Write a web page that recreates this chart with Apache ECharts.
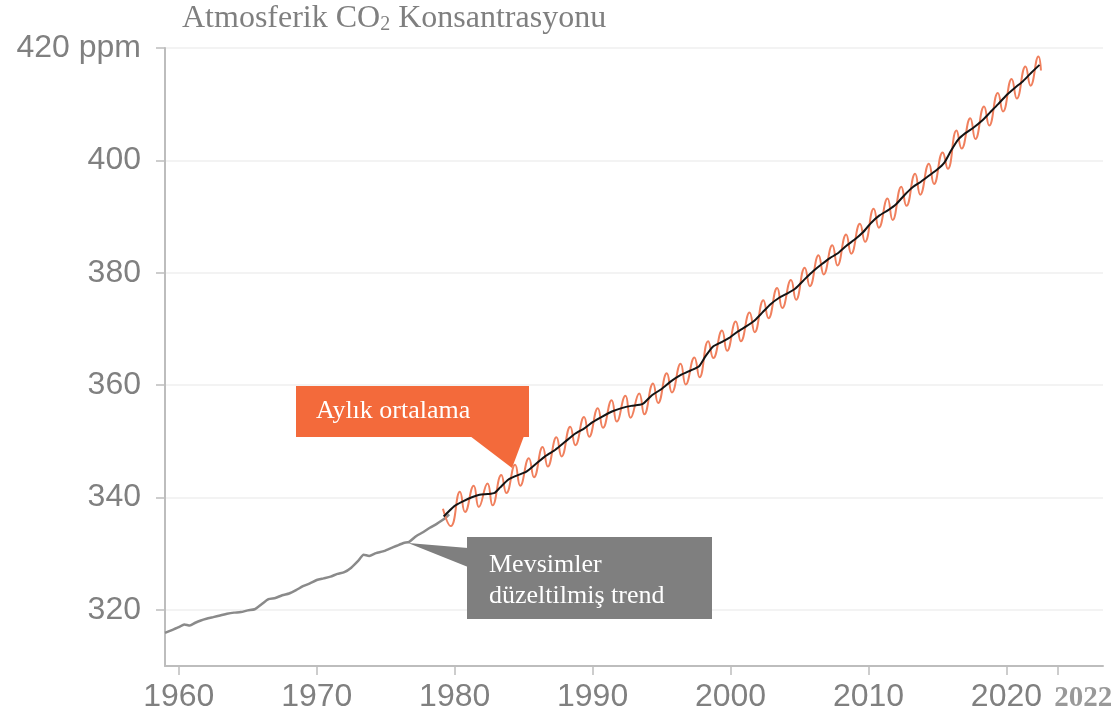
<!DOCTYPE html>
<html>
<head>
<meta charset="utf-8">
<script src="https://cdn.jsdelivr.net/npm/echarts@6/dist/echarts.min.js"></script>
<style>
html,body{margin:0;padding:0;background:#fff;}
#chart{width:1117px;height:719px;}
</style>
</head>
<body>
<div id="chart"></div>
<script>
// Seasonally corrected trend before 1979 (gray)
const grayYears = [1959.0,1959.5,1960.0,1960.4,1960.8,1961.2,1961.6,1962.0,1962.5,1963.0,1963.5,1964.0,1964.5,1965.0,1965.5,1966.0,1966.5,1967.0,1967.5,1968.0,1968.5,1969.0,1969.5,1970.0,1970.5,1971.0,1971.5,1972.0,1972.5,1973.0,1973.4,1973.8,1974.3,1974.8,1975.3,1975.8,1976.3,1976.7,1977.2,1977.7,1978.2,1978.7,1979.2,1979.6];
const grayValues = [315.9,316.4,316.9,317.4,317.2,317.7,318.1,318.4,318.7,319.0,319.3,319.5,319.6,319.9,320.1,321.0,321.9,322.1,322.6,322.9,323.5,324.2,324.7,325.3,325.6,325.9,326.4,326.7,327.5,328.7,329.8,329.6,330.1,330.4,330.9,331.4,331.9,332.1,333.1,333.8,334.6,335.3,336.1,337.0];

// Seasonally corrected trend from 1979 (black)
const trendYears = [1979.2,1980.0,1980.6,1981.2,1981.8,1982.4,1982.9,1983.3,1983.9,1984.5,1985.2,1985.9,1986.6,1987.3,1988.0,1988.7,1989.4,1990.0,1990.7,1991.4,1992.1,1992.8,1993.6,1994.3,1995.0,1995.7,1996.4,1997.1,1997.7,1998.2,1998.7,1999.3,1999.9,2000.5,2001.1,2001.7,2002.3,2002.9,2003.5,2004.1,2004.7,2005.4,2006.0,2006.6,2007.2,2007.8,2008.4,2009.0,2009.6,2010.2,2010.8,2011.4,2012.0,2012.6,2013.2,2013.8,2014.4,2015.0,2015.5,2016.0,2016.5,2017.0,2017.6,2018.2,2018.8,2019.4,2020.0,2020.6,2021.2,2021.8,2022.4];
const trendValues = [336.6,338.5,339.3,340.0,340.5,340.6,340.8,341.8,343.2,343.9,344.6,346.0,347.4,348.5,349.9,351.3,352.3,353.4,354.4,355.3,355.9,356.3,356.6,358.2,359.3,360.7,361.8,362.6,363.3,365.2,366.8,367.6,368.4,369.5,370.4,371.4,372.9,374.4,375.5,376.3,377.2,378.9,380.3,381.5,382.6,383.5,384.8,385.9,387.2,388.9,390.2,391.1,392.2,393.8,395.2,396.2,397.3,398.4,399.6,401.8,403.7,404.8,405.8,407.0,408.5,410.0,411.6,412.9,414.1,415.6,417.0];

// Monthly mean: seasonal highs and lows (orange)
const monthlyYears = [1979.15,1979.72,1980.38,1980.75,1981.38,1981.75,1982.38,1982.75,1983.38,1983.75,1984.38,1984.75,1985.38,1985.75,1986.38,1986.75,1987.38,1987.75,1988.38,1988.75,1989.38,1989.75,1990.38,1990.75,1991.38,1991.75,1992.38,1992.75,1993.38,1993.75,1994.38,1994.75,1995.38,1995.75,1996.38,1996.75,1997.38,1997.75,1998.38,1998.75,1999.38,1999.75,2000.38,2000.75,2001.38,2001.75,2002.38,2002.75,2003.38,2003.75,2004.38,2004.75,2005.38,2005.75,2006.38,2006.75,2007.38,2007.75,2008.38,2008.75,2009.38,2009.75,2010.38,2010.75,2011.38,2011.75,2012.38,2012.75,2013.38,2013.75,2014.38,2014.75,2015.38,2015.75,2016.38,2016.75,2017.38,2017.75,2018.38,2018.75,2019.38,2019.75,2020.38,2020.75,2021.38,2021.75,2022.32,2022.5];
const monthlyValues = [338.0,334.9,341.0,337.4,342.1,338.3,342.5,338.6,344.0,340.8,345.8,342.1,347.0,343.6,349.0,345.5,350.7,347.3,352.6,349.3,354.3,350.8,355.9,352.4,357.3,353.5,358.1,354.2,358.5,354.8,360.3,356.8,362.1,358.7,363.8,360.1,364.9,361.4,367.8,364.8,369.7,366.1,371.3,367.8,372.9,369.4,375.1,371.9,377.3,373.7,378.7,375.2,380.9,377.6,383.1,379.7,384.9,381.3,386.8,383.4,388.7,385.5,391.4,388.0,393.2,389.4,395.3,391.9,397.6,393.9,399.4,395.8,401.4,398.5,405.3,402.1,407.5,403.8,409.6,406.2,412.0,408.7,414.5,411.0,416.7,413.3,418.5,416.0];

// Axis ticks and labels
const xTickValues = [1960,1970,1980,1990,2000,2010,2020,2023.75];
const xTickLabels = ['1960','1970','1980','1990','2000','2010','2020','2022'];
const yTickValues = [320,340,360,380,400,420];
const yTickLabels = ['320','340','360','380','400','420 ppm'];

const titleText = '{a|Atmosferik CO}{s|2}{a| Konsantrasyonu}';
const monthlyLabel = 'Aylık ortalama';
const trendLabelLines = ['Mevsimler', 'düzeltilmiş trend'];

const zip = (xs, ys) => xs.map((x, i) => [x, ys[i]]);

const chart = echarts.init(document.getElementById('chart'), null, {renderer: 'canvas'});

const ORANGE = '#f36a3b';
const GRAYBOX = '#7f7f7f';
const SERIF = '"Liberation Serif", "Times New Roman", serif';
const SANS = '"Liberation Sans", Arial, Helvetica, sans-serif';

const option = {
  animation: false,
  backgroundColor: '#ffffff',
  title: {
    text: titleText,
    left: 182,
    top: -3,
    padding: 0,
    textStyle: {
      fontWeight: 'normal',
      rich: {
        a: {fontFamily: SERIF, fontWeight: 'normal', fontSize: 32, color: '#7f7f7f', lineHeight: 38, verticalAlign: 'bottom'},
        s: {fontFamily: SERIF, fontWeight: 'normal', fontSize: 20, color: '#7f7f7f', lineHeight: 14, verticalAlign: 'bottom'}
      }
    }
  },
  grid: {left: 165, right: 14, top: 48, bottom: 53},
  xAxis: {
    type: 'value',
    min: 1959,
    max: 2027,
    axisLine: {show: true, lineStyle: {color: '#bdbdbd', width: 2}},
    axisTick: {show: true, customValues: xTickValues, length: 9, lineStyle: {color: '#bdbdbd', width: 1.5}},
    axisLabel: {
      customValues: xTickValues,
      fontFamily: SANS,
      fontSize: 32,
      color: '#808080',
      margin: 15,
      formatter: function (v) {
        const i = xTickValues.indexOf(v);
        const t = i >= 0 ? xTickLabels[i] : String(v);
        return i === xTickValues.length - 1 ? '{b|' + t + '}' : t;
      },
      rich: {
        b: {fontFamily: SERIF, fontWeight: 'bold', fontSize: 29, color: '#999999', padding: [3, 0, 0, 50]}
      }
    },
    splitLine: {show: false}
  },
  yAxis: {
    type: 'value',
    min: 310,
    max: 420,
    axisLine: {show: true, lineStyle: {color: '#bdbdbd', width: 2}},
    axisTick: {show: true, customValues: yTickValues, length: 9, lineStyle: {color: '#bdbdbd', width: 1.5}},
    axisLabel: {
      customValues: yTickValues,
      fontFamily: SANS,
      fontSize: 32,
      color: '#808080',
      margin: 24,
      formatter: function (v) {
        const i = yTickValues.indexOf(v);
        return i >= 0 ? yTickLabels[i] : String(v);
      }
    },
    splitLine: {show: true, lineStyle: {color: '#efefef', width: 1.5}}
  },
  series: [
    {
      name: 'trend-early',
      type: 'line',
      data: zip(grayYears, grayValues),
      showSymbol: false,
      smooth: 0.2,
      lineStyle: {color: '#8a8a8a', width: 2.5},
      z: 2
    },
    {
      name: 'monthly',
      type: 'line',
      data: zip(monthlyYears, monthlyValues),
      showSymbol: false,
      smooth: 0.5,
      lineStyle: {color: '#f0805e', width: 2},
      z: 3
    },
    {
      name: 'trend',
      type: 'line',
      data: zip(trendYears, trendValues),
      showSymbol: false,
      smooth: 0.2,
      lineStyle: {color: '#141414', width: 2},
      z: 4
    }
  ],
  graphic: [
    {type: 'polygon', shape: {points: [[470, 436], [524, 436], [512, 468]]}, style: {fill: ORANGE}, z: 10},
    {type: 'rect', shape: {x: 296, y: 386, width: 233, height: 51}, style: {fill: ORANGE}, z: 10},
    {type: 'text', x: 316, y: 411, style: {text: monthlyLabel, fill: '#ffffff', font: '26px ' + SERIF, verticalAlign: 'middle', align: 'left'}, z: 11},
    {type: 'polygon', shape: {points: [[468, 548], [468, 567], [408, 543]]}, style: {fill: GRAYBOX}, z: 10},
    {type: 'rect', shape: {x: 467, y: 537, width: 245, height: 82}, style: {fill: GRAYBOX}, z: 10},
    {type: 'text', x: 489, y: 565, style: {text: trendLabelLines[0], fill: '#ffffff', font: '26px ' + SERIF, verticalAlign: 'middle', align: 'left'}, z: 11},
    {type: 'text', x: 489, y: 596, style: {text: trendLabelLines[1], fill: '#ffffff', font: '26px ' + SERIF, verticalAlign: 'middle', align: 'left'}, z: 11}
  ]
};

chart.setOption(option);
</script>
</body>
</html>
